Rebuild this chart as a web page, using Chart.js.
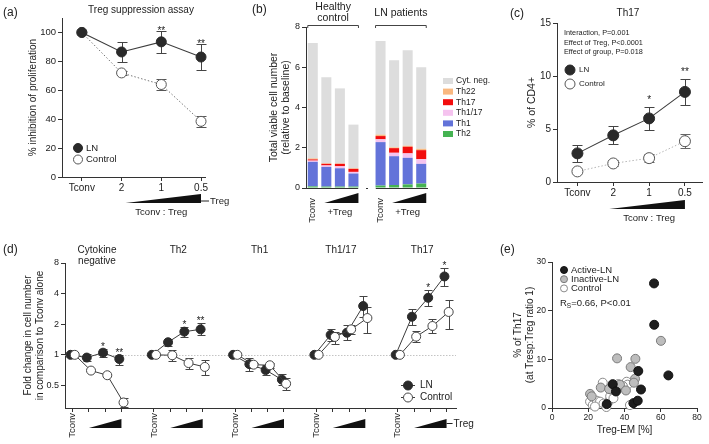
<!DOCTYPE html>
<html>
<head>
<meta charset="utf-8">
<title>Treg figure</title>
<script src="https://cdn.jsdelivr.net/npm/chart.js@4/dist/chart.umd.min.js"></script>
<style>
  html, body { margin: 0; padding: 0; background: #fff; }
  #wrap { position: relative; width: 709px; height: 444px; overflow: hidden; background: #fff; }
  #wrap canvas { position: absolute; left: 0; top: 0; }
</style>
</head>
<body>
<div id="wrap">
  <canvas id="pa" width="709" height="444"></canvas>
  <canvas id="pb" width="709" height="444"></canvas>
  <canvas id="pc" width="709" height="444"></canvas>
  <canvas id="pd" width="709" height="444"></canvas>
  <canvas id="pe" width="709" height="444"></canvas>
</div>
<script>
// ================= DATA =================
// (a) Treg suppression assay
const A_RATIOS = ['Tconv', '2', '1', '0.5'];
const A_LN = [100, 86.5, 93.5, 83];
const A_LN_SD = [0, 7, 7.8, 9.2];
const A_CTRL = [100, 72, 64, 38.5];
const A_CTRL_SD = [0, 1.5, 4, 3.7];
const A_SIG = ['', '', '**', '**'];
const A_YTICKS = [0, 20, 40, 60, 80, 100];

// (b) stacked bars (9 slots, slot 4 is the gap between groups)
const B_SLOTS = ['Tconv', '+Treg', '+Treg', '+Treg', '', 'Tconv', '+Treg', '+Treg', '+Treg'];
const B_GROUP_HC = ['Healthy', 'control'];
const B_GROUP_LN = ['LN patients'];
const B_TH2    = [0.08, 0.07, 0.07, 0.07, null, 0.12, 0.15, 0.18, 0.22];
const B_TH1    = [1.22, 0.98, 0.91, 0.65, null, 2.16, 1.43, 1.32, 0.98];
const B_TH1_17 = [0.06, 0.07, 0.10, 0.08, null, 0.14, 0.17, 0.22, 0.23];
const B_TH17   = [0.06, 0.08, 0.12, 0.15, null, 0.16, 0.23, 0.33, 0.45];
const B_TH22   = [0.05, 0.03, 0.02, 0.03, null, 0.07, 0.04, 0.05, 0.07];
const B_CYTNEG = [5.73, 4.27, 3.73, 2.17, null, 4.65, 4.33, 4.75, 4.05];
const B_YTICKS = [0, 2, 4, 6, 8];

// (c) Th17
const C_RATIOS = ['Tconv', '2', '1', '0.5'];
const C_LN = [2.7, 4.4, 6.0, 8.5];
const C_LN_SD = [0.8, 0.85, 1.1, 1.25];
const C_CTRL = [1.0, 1.75, 2.25, 3.85];
const C_CTRL_SD = [0.12, 0.28, 0.4, 0.65];
const C_SIG = ['', '', '*', '**'];
const C_YTICKS = [0, 5, 10, 15];
const C_STATS = ['Interaction, P=0.001', 'Effect of Treg, P<0.0001', 'Effect of group, P=0.018'];

// (d) fold change per subset
const D_GROUPS = [['Cytokine', 'negative'], ['Th2'], ['Th1'], ['Th1/17'], ['Th17']];
const D_STEPS = ['Tconv', '', '', ''];
const D_LN = [
  [1, 0.94, 1.05, 0.91],
  [1, 1.33, 1.69, 1.78],
  [1, 0.81, 0.71, 0.57],
  [1, 1.57, 1.65, 3.02],
  [1, 2.37, 3.64, 5.9]];
const D_LN_LO = [
  [1, 0.86, 0.96, 0.80],
  [1, 1.23, 1.49, 1.57],
  [1, 0.70, 0.64, 0.51],
  [1, 1.37, 1.40, 2.37],
  [1, 1.97, 3.02, 4.75]];
const D_LN_HI = [
  [1, 1.02, 1.14, 1.00],
  [1, 1.43, 1.89, 2.04],
  [1, 0.93, 0.80, 0.65],
  [1, 1.81, 1.97, 3.78],
  [1, 2.80, 4.30, 7.15]];
const D_CTRL = [
  [1, 0.70, 0.63, 0.34],
  [1, 0.99, 0.83, 0.76],
  [1, 0.80, 0.79, 0.52],
  [1, 1.50, 1.78, 2.30],
  [1, 1.51, 1.92, 2.64]];
const D_CTRL_LO = [
  [1, 0.69, 0.62, 0.31],
  [1, 0.86, 0.73, 0.64],
  [1, 0.76, 0.74, 0.45],
  [1, 1.27, 1.60, 1.65],
  [1, 1.33, 1.65, 1.78]];
const D_CTRL_HI = [
  [1, 0.71, 0.64, 0.38],
  [1, 1.12, 0.94, 0.89],
  [1, 0.84, 0.84, 0.59],
  [1, 1.69, 1.97, 2.93],
  [1, 1.72, 2.24, 3.45]];
const D_SIG = [['', '', '*', '**'], ['', '', '*', '**'], ['', '', '', ''], ['', '', '', ''], ['', '', '*', '*']];
const D_YTICKS = [0.5, 1, 2, 4, 8];

// (e) scatter
const E_ACTIVE_X   = [56.3, 56.4, 64.2, 47.6, 49.1, 33.5, 35.3, 30.2, 44.9, 47.3];
const E_ACTIVE_Y   = [25.6, 17.1, 6.7, 7.6, 3.8, 4.9, 3.4, 0.8, 1.0, 1.5];
const E_INACTIVE_X = [60.1, 35.9, 46.0, 43.4, 21.0, 21.9, 26.9, 32.6, 37.5, 40.8, 45.8, 45.2, 31.5];
const E_INACTIVE_Y = [13.8, 10.2, 10.1, 8.4, 2.9, 2.4, 4.2, 3.8, 4.8, 3.6, 6.0, 5.2, 3.9];
const E_CONTROL_X  = [28.0, 41.2, 41.7, 34.5, 21.0, 22.5, 24.7, 26.5, 28.4, 31.2, 32.1, 33.9, 43.0, 23.7, 30.0, 39.1, 36.5];
const E_CONTROL_Y  = [5.2, 5.4, 4.8, 3.7, 1.3, 0.6, 1.5, 1.3, 0.9, 1.3, 2.4, 2.0, 0.6, 0.3, 0.2, 4.5, 4.9];
const E_XTICKS = [0, 20, 40, 60, 80];
const E_YTICKS = [0, 10, 20, 30];

// ================= HELPERS =================
const W = 709, H = 444;
const FONT = "'Liberation Sans', Arial, Helvetica, sans-serif";
const AX = '#333';
const TXT = '#222';
Chart.defaults.font.family = FONT;
Chart.defaults.color = TXT;
Chart.defaults.animation = false;
Chart.defaults.responsive = false;
Chart.defaults.events = [];
Chart.defaults.plugins.legend.display = false;
Chart.defaults.plugins.tooltip.enabled = false;

const el = id => document.getElementById(id);
function pad(area, yW, xH) {
  return { left: area.l - yW, top: area.t, right: W - area.r, bottom: H - area.b - xH };
}
function yTitle(text, size, cx, area, yW) {
  const lh = size * 1.2;
  return { display: true, text, color: TXT, font: { size, lineHeight: 1.2 },
           padding: { top: cx - (area.l - yW) - lh / 2, bottom: 0 } };
}
function fixedTicks(vals) { return s => { s.ticks = vals.map(v => ({ value: v })); }; }
function axis(extra) {
  return Object.assign({
    border: { display: true, color: AX, width: 1 },
    grid: { drawOnChartArea: false, drawTicks: true, tickLength: 4, color: AX, lineWidth: 1 },
  }, extra);
}
function txt(ctx, s, x, y, o = {}) {
  ctx.save();
  ctx.font = `${o.weight || 'normal'} ${o.size || 10}px ${FONT}`;
  ctx.fillStyle = o.color || TXT;
  ctx.textAlign = o.align || 'center';
  ctx.textBaseline = o.base || 'middle';
  ctx.translate(x, y);
  if (o.rot) ctx.rotate(o.rot);
  ctx.fillText(s, 0, 0);
  ctx.restore();
}
function wedge(ctx, x1, x2, yb, h) {
  ctx.save();
  ctx.beginPath(); ctx.moveTo(x1, yb); ctx.lineTo(x2, yb); ctx.lineTo(x2, yb - h); ctx.closePath();
  ctx.fillStyle = '#111'; ctx.fill(); ctx.restore();
}
function seg(ctx, x1, y1, x2, y2, color, lw, dash) {
  ctx.save(); ctx.strokeStyle = color || AX; ctx.lineWidth = lw || 1;
  if (dash) ctx.setLineDash(dash);
  ctx.beginPath(); ctx.moveTo(x1, y1); ctx.lineTo(x2, y2); ctx.stroke(); ctx.restore();
}
function dot(ctx, x, y, r, fill, stroke, lw) {
  ctx.save(); ctx.beginPath(); ctx.arc(x, y, r, 0, Math.PI * 2);
  ctx.fillStyle = fill; ctx.fill();
  ctx.lineWidth = lw || 1; ctx.strokeStyle = stroke; ctx.stroke(); ctx.restore();
}
function seriesLegend(ctx, items, mx, y0, dy, tx, size, r, withLine) {
  items.forEach((ds, i) => {
    const y = y0 + i * dy;
    if (withLine) seg(ctx, mx - 7, y, mx + 7, y, ds.borderColor, 1);
    dot(ctx, mx, y, r, ds.pointBackgroundColor, ds.pointBorderColor, ds.pointBorderWidth);
    txt(ctx, ds.label, tx, y, { size, align: 'left' });
  });
}
function sdSeries(vals, sd, shift) {
  return {
    data: vals.map((v, i) => ({ x: i + (shift || 0), y: v })),
    errLo: vals.map((v, i) => v - sd[i]),
    errHi: vals.map((v, i) => v + sd[i]),
  };
}
// error bars + significance stars drawn through the chart scales
const errPlugin = {
  id: 'errPlugin',
  beforeDatasetsDraw(chart) {
    const ctx = chart.ctx, xs = chart.scales.x, ys = chart.scales.y;
    chart.data.datasets.forEach(ds => {
      if (!ds.errLo) return;
      ctx.save(); ctx.strokeStyle = ds.errColor || AX; ctx.lineWidth = 1;
      ds.data.forEach((p, i) => {
        const lo = ds.errLo[i], hi = ds.errHi[i];
        if (lo == null || hi == null || Math.abs(hi - lo) < 1e-9) return;
        const x = Math.round(xs.getPixelForValue(p.x)) + 0.5;
        const y1 = Math.round(ys.getPixelForValue(lo)) + 0.5, y2 = Math.round(ys.getPixelForValue(hi)) + 0.5;
        const c = ds.capHalf || 4;
        ctx.beginPath();
        ctx.moveTo(x, y1); ctx.lineTo(x, y2);
        ctx.moveTo(x - c, y1); ctx.lineTo(x + c, y1);
        ctx.moveTo(x - c, y2); ctx.lineTo(x + c, y2);
        ctx.stroke();
      });
      ctx.restore();
    });
  },
  afterDatasetsDraw(chart) {
    const ctx = chart.ctx, xs = chart.scales.x, ys = chart.scales.y;
    chart.data.datasets.forEach(ds => {
      if (!ds.sig) return;
      ds.data.forEach((p, i) => {
        const s = ds.sig[i]; if (!s) return;
        const top = ds.errHi ? ds.errHi[i] : p.y;
        txt(ctx, s, xs.getPixelForValue(p.x), ys.getPixelForValue(top) + (ds.sigShift || 0),
            { size: 10, base: 'alphabetic' });
      });
    });
  }
};

// ================= (a) =================
const areaA = { l: 62, t: 18, r: 205, b: 177 };
const aLN = Object.assign(sdSeries(A_LN, A_LN_SD), {
  label: 'LN', sig: A_SIG, sigShift: 3, borderColor: '#3c3c3c', borderWidth: 1.1,
  pointRadius: 5, pointBackgroundColor: '#2a2a2a', pointBorderColor: '#2a2a2a', pointBorderWidth: 1,
  errColor: '#444', capHalf: 5, clip: false });
const aCT = Object.assign(sdSeries(A_CTRL, A_CTRL_SD), {
  label: 'Control', borderColor: '#777', borderWidth: 1, borderDash: [1.5, 2],
  pointRadius: 5, pointBackgroundColor: '#fff', pointBorderColor: '#555', pointBorderWidth: 1,
  errColor: '#555', capHalf: 5, clip: false });
new Chart(el('pa'), {
  type: 'line',
  data: { datasets: [aLN, aCT] },
  options: {
    layout: { padding: pad(areaA, 45, 40) },
    scales: {
      x: axis({ type: 'linear', min: -0.5, max: 3.1, afterBuildTicks: fixedTicks([0, 1, 2, 3]),
        afterFit: s => { s.height = 40; },
        ticks: { font: { size: 10 }, padding: 1, maxRotation: 0, callback: v => A_RATIOS[v] } }),
      y: axis({ min: 0, max: 110, afterBuildTicks: fixedTicks(A_YTICKS),
        afterFit: s => { s.width = 45; },
        ticks: { font: { size: 9.5 }, padding: 2 },
        title: yTitle('% inhibition of proliferation', 10, 33, areaA, 45) })
    }
  },
  plugins: [errPlugin, { id: 'decoA', afterDraw(chart) {
    const ctx = chart.ctx, xs = chart.scales.x;
    txt(ctx, '(a)', 3, 13, { size: 12, align: 'left' });
    txt(ctx, 'Treg suppression assay', 141, 10, { size: 10 });
    seriesLegend(ctx, chart.data.datasets, 78, 148, 11.5, 86, 9.5, 4.5, false);
    const x1 = xs.getPixelForValue(1) + 4, x2 = xs.getPixelForValue(3);
    wedge(ctx, x1, x2, 203, 9);
    seg(ctx, x2, 201, x2 + 8, 201, '#222', 1);
    txt(ctx, 'Treg', x2 + 9, 201, { size: 9.5, align: 'left' });
    txt(ctx, 'Tconv : Treg', xs.getPixelForValue(2), 212, { size: 9.5 });
  } }]
});

// ================= (b) =================
const areaB = { l: 306, t: 27, r: 428, b: 188 };
const bStack = [
  { label: 'Th2', data: B_TH2, backgroundColor: '#45b352' },
  { label: 'Th1', data: B_TH1, backgroundColor: '#6373d9' },
  { label: 'Th1/17', data: B_TH1_17, backgroundColor: '#f5c3ef' },
  { label: 'Th17', data: B_TH17, backgroundColor: '#f20d0d' },
  { label: 'Th22', data: B_TH22, backgroundColor: '#f9b880' },
  { label: 'Cyt. neg.', data: B_CYTNEG, backgroundColor: '#dddddd' },
].map(d => Object.assign(d, { barPercentage: 0.74, categoryPercentage: 1, borderWidth: 0 }));
new Chart(el('pb'), {
  type: 'bar',
  data: { labels: B_SLOTS, datasets: bStack },
  options: {
    layout: { padding: pad(areaB, 40, 40) },
    scales: {
      x: { type: 'category', stacked: true, offset: true,
        border: { display: false }, grid: { display: false },
        afterFit: s => { s.height = 40; },
        ticks: { autoSkip: false, minRotation: 90, maxRotation: 90, padding: 2, font: { size: 9.5 },
          callback: (v, i) => (B_SLOTS[i] === 'Tconv' ? 'Tconv' : '') } },
      y: axis({ stacked: true, min: 0, max: 8, afterBuildTicks: fixedTicks(B_YTICKS),
        afterFit: s => { s.width = 40; },
        ticks: { font: { size: 9 }, padding: 2 },
        title: yTitle(['Total viable cell number', '(relative to baseline)'], 10.5, 274, areaB, 40) })
    }
  },
  plugins: [{ id: 'decoB', afterDraw(chart) {
    const ctx = chart.ctx, xs = chart.scales.x, ys = chart.scales.y;
    const px = i => xs.getPixelForValue(i);
    const slot = px(1) - px(0), half = slot * 0.74 / 2;
    txt(ctx, '(b)', 252, 10, { size: 12, align: 'left' });
    // x-axis segments (broken between groups)
    const yb = Math.round(ys.getPixelForValue(0)) + 0.5;
    seg(ctx, px(0) - slot / 2, yb, px(3) + slot / 2 - 2, yb, AX, 1);
    seg(ctx, px(5) - slot / 2 + 2, yb, px(8) + slot / 2, yb, AX, 1);
    seg(ctx, px(4) - 1, yb, px(4) + 1, yb, AX, 1);
    // group brackets
    const bracket = (a, b, lines, ty) => {
      const x1 = px(a) - half, x2 = px(b) + half;
      ctx.save(); ctx.strokeStyle = '#444'; ctx.lineWidth = 1; ctx.beginPath();
      ctx.moveTo(x1, 28); ctx.lineTo(x1, 25.5); ctx.lineTo(x2, 25.5); ctx.lineTo(x2, 28); ctx.stroke(); ctx.restore();
      lines.forEach((t, k) => txt(ctx, t, (x1 + x2) / 2, ty + k * 11, { size: 10.5 }));
    };
    bracket(0, 3, B_GROUP_HC, 7);
    bracket(5, 8, B_GROUP_LN, 13);
    // +Treg wedges
    [[1, 3], [6, 8]].forEach(([a, b]) => {
      wedge(ctx, px(a) - 2, px(b) + half, 203, 10);
      txt(ctx, B_SLOTS[a], px((a + b) / 2), 212, { size: 9.5 });
    });
    // legend (top = last stacked dataset)
    const ds = chart.data.datasets.slice().reverse();
    ds.forEach((d, i) => {
      const y = 81 + i * 10.6;
      ctx.fillStyle = d.backgroundColor; ctx.fillRect(443, y - 3, 10, 6);
      txt(ctx, d.label, 456, y, { size: 8.5, align: 'left' });
    });
  } }]
});

// ================= (c) =================
const areaC = { l: 557, t: 23, r: 707, b: 182 };
const cLN = Object.assign(sdSeries(C_LN, C_LN_SD), {
  label: 'LN', sig: C_SIG, sigShift: -4, borderColor: '#3c3c3c', borderWidth: 1.1,
  pointRadius: 5.5, pointBackgroundColor: '#2a2a2a', pointBorderColor: '#2a2a2a', pointBorderWidth: 1,
  errColor: '#444', capHalf: 5, clip: false });
const cCT = Object.assign(sdSeries(C_CTRL, C_CTRL_SD), {
  label: 'Control', borderColor: '#b5b5b5', borderWidth: 1, borderDash: [1.5, 2],
  pointRadius: 5.5, pointBackgroundColor: '#fff', pointBorderColor: '#555', pointBorderWidth: 1,
  errColor: '#666', capHalf: 5, clip: false });
new Chart(el('pc'), {
  type: 'line',
  data: { datasets: [cLN, cCT] },
  options: {
    layout: { padding: pad(areaC, 40, 40) },
    scales: {
      x: axis({ type: 'linear', min: -0.57, max: 3.49, afterBuildTicks: fixedTicks([0, 1, 2, 3]),
        afterFit: s => { s.height = 40; },
        ticks: { font: { size: 10 }, padding: 1, maxRotation: 0, callback: v => C_RATIOS[v] } }),
      y: axis({ min: 0, max: 15, afterBuildTicks: fixedTicks(C_YTICKS),
        afterFit: s => { s.width = 40; },
        ticks: { font: { size: 10 }, padding: 2 },
        title: yTitle('% of CD4+', 10.5, 532, areaC, 40) })
    }
  },
  plugins: [errPlugin, { id: 'decoC', afterDraw(chart) {
    const ctx = chart.ctx, xs = chart.scales.x;
    txt(ctx, '(c)', 510, 14, { size: 12, align: 'left' });
    txt(ctx, 'Th17', 628, 13, { size: 10 });
    C_STATS.forEach((s, i) => txt(ctx, s, 564, 33 + i * 9.5, { size: 7.3, align: 'left' }));
    seriesLegend(ctx, chart.data.datasets, 570, 70, 14, 579, 8, 5, false);
    const x1 = xs.getPixelForValue(1) - 4, x2 = xs.getPixelForValue(3);
    wedge(ctx, x1, x2, 209, 9);
    txt(ctx, 'Tconv : Treg', xs.getPixelForValue(2), 218, { size: 9.5 });
  } }]
});

// ================= (d) =================
const areaD = { l: 65, t: 263, r: 456, b: 408 };
const DODGE = 0.13, GSTEP = 5;
const dLNstyle = { borderColor: '#3c3c3c', borderWidth: 1, pointRadius: 4.5, pointBackgroundColor: '#2a2a2a',
  pointBorderColor: '#2a2a2a', pointBorderWidth: 1, errColor: '#444', capHalf: 4, clip: false, order: 1, sigShift: 1 };
const dCTstyle = { borderColor: '#3c3c3c', borderWidth: 1, pointRadius: 4.5, pointBackgroundColor: '#fff',
  pointBorderColor: '#444', pointBorderWidth: 1, errColor: '#444', capHalf: 4, clip: false, order: 0 };
const dSets = [];
D_GROUPS.forEach((g, gi) => {
  dSets.push(Object.assign({ label: 'LN', data: D_LN[gi].map((v, k) => ({ x: gi * GSTEP + k - DODGE, y: v })),
    errLo: D_LN_LO[gi], errHi: D_LN_HI[gi], sig: D_SIG[gi] }, dLNstyle));
  dSets.push(Object.assign({ label: 'Control', data: D_CTRL[gi].map((v, k) => ({ x: gi * GSTEP + k + DODGE, y: v })),
    errLo: D_CTRL_LO[gi], errHi: D_CTRL_HI[gi] }, dCTstyle));
});
const dTickPos = [];
D_GROUPS.forEach((g, gi) => D_STEPS.forEach((s, k) => dTickPos.push(gi * GSTEP + k)));
new Chart(el('pd'), {
  type: 'line',
  data: { datasets: dSets },
  options: {
    layout: { padding: pad(areaD, 45, 36) },
    scales: {
      x: axis({ type: 'linear', min: -0.47, max: 23.58, afterBuildTicks: fixedTicks(dTickPos),
        afterFit: s => { s.height = 36; },
        ticks: { autoSkip: false, minRotation: 90, maxRotation: 90, padding: 1, font: { size: 9.5 },
          callback: v => D_STEPS[Math.round(v) % GSTEP] || '' } }),
      y: axis({ type: 'logarithmic', min: 0.307, max: 8, afterBuildTicks: fixedTicks(D_YTICKS),
        afterFit: s => { s.width = 45; },
        ticks: { font: { size: 9 }, padding: 2, callback: v => String(v) },
        title: yTitle(['Fold change in cell number', 'in comparison to Tconv alone'], 10, 28, areaD, 45) })
    }
  },
  plugins: [{ id: 'refLine', beforeDatasetsDraw(chart) {
    const ys = chart.scales.y, a = chart.chartArea;
    const y = Math.round(ys.getPixelForValue(1)) + 0.5;
    seg(chart.ctx, a.left, y, a.right, y, '#c4c4c4', 1, [1.5, 1.5]);
  } }, errPlugin, { id: 'decoD', afterDraw(chart) {
    const ctx = chart.ctx, xs = chart.scales.x;
    txt(ctx, '(d)', 3, 250, { size: 12, align: 'left' });
    D_GROUPS.forEach((g, gi) => {
      const cx = xs.getPixelForValue(gi * GSTEP + 1.5);
      g.forEach((t, k) => txt(ctx, t, cx, 250 + k * 11.5, { size: 10 }));
      wedge(ctx, xs.getPixelForValue(gi * GSTEP + 1), xs.getPixelForValue(gi * GSTEP + 3), 428, 9);
    });
    const xe = xs.getPixelForValue((D_GROUPS.length - 1) * GSTEP + 3);
    seg(ctx, xe, 423.5, xe + 6, 423.5, '#222', 1);
    txt(ctx, 'Treg', xe + 7, 424, { size: 10, align: 'left' });
    seriesLegend(ctx, [chart.data.datasets[0], chart.data.datasets[1]], 408, 385.5, 12, 420, 10, 4.5, true);
  } }]
});

// ================= (e) =================
const areaE = { l: 552, t: 262, r: 697, b: 408 };
const toPts = (xs, ys) => xs.map((x, i) => ({ x, y: ys[i] }));
new Chart(el('pe'), {
  type: 'scatter',
  data: { datasets: [
    { label: 'Active-LN', data: toPts(E_ACTIVE_X, E_ACTIVE_Y), pointRadius: 4.5,
      pointBackgroundColor: '#1e1e1e', pointBorderColor: '#111', pointBorderWidth: 1, clip: false },
    { label: 'Inactive-LN', data: toPts(E_INACTIVE_X, E_INACTIVE_Y), pointRadius: 4.5,
      pointBackgroundColor: '#bdbdbd', pointBorderColor: '#7a7a7a', pointBorderWidth: 1, clip: false },
    { label: 'Control', data: toPts(E_CONTROL_X, E_CONTROL_Y), pointRadius: 4.5,
      pointBackgroundColor: '#ffffff', pointBorderColor: '#8a8a8a', pointBorderWidth: 1, clip: false },
  ] },
  options: {
    layout: { padding: pad(areaE, 45, 30) },
    scales: {
      x: axis({ type: 'linear', min: 0, max: 80, afterBuildTicks: fixedTicks(E_XTICKS),
        afterFit: s => { s.height = 30; },
        ticks: { font: { size: 8.5 }, padding: 1, maxRotation: 0 },
        title: { display: true, text: 'Treg-EM [%]', color: TXT, font: { size: 10, lineHeight: 1.2 },
          padding: { top: 0, bottom: 2 } } }),
      y: axis({ min: 0, max: 30, afterBuildTicks: fixedTicks(E_YTICKS),
        afterFit: s => { s.width = 45; },
        ticks: { font: { size: 8.5 }, padding: 2 },
        title: yTitle(['% of Th17', '(at Tresp:Treg ratio 1)'], 10, 518, areaE, 45) })
    }
  },
  plugins: [{ id: 'decoE', afterDraw(chart) {
    const ctx = chart.ctx;
    txt(ctx, '(e)', 500, 250, { size: 12, align: 'left' });
    chart.data.datasets.forEach((d, i) => {
      const y = 270 + i * 9.2;
      dot(ctx, 564, y, 3.5, d.pointBackgroundColor, d.pointBorderColor, 1);
      txt(ctx, d.label, 571, y, { size: 9.5, align: 'left' });
    });
    // R_S = 0.66, P<0.01
    ctx.save();
    ctx.font = `9.5px ${FONT}`; ctx.fillStyle = TXT; ctx.textBaseline = 'middle'; ctx.textAlign = 'left';
    const x0 = 560, y0 = 303;
    ctx.fillText('R', x0, y0);
    const wR = ctx.measureText('R').width;
    ctx.font = `6.5px ${FONT}`; ctx.fillText('S', x0 + wR, y0 + 3);
    const wS = ctx.measureText('S').width;
    ctx.font = `9.5px ${FONT}`; ctx.fillText('=0.66, P<0.01', x0 + wR + wS, y0);
    ctx.restore();
  } }]
});
</script>
</body>
</html>
